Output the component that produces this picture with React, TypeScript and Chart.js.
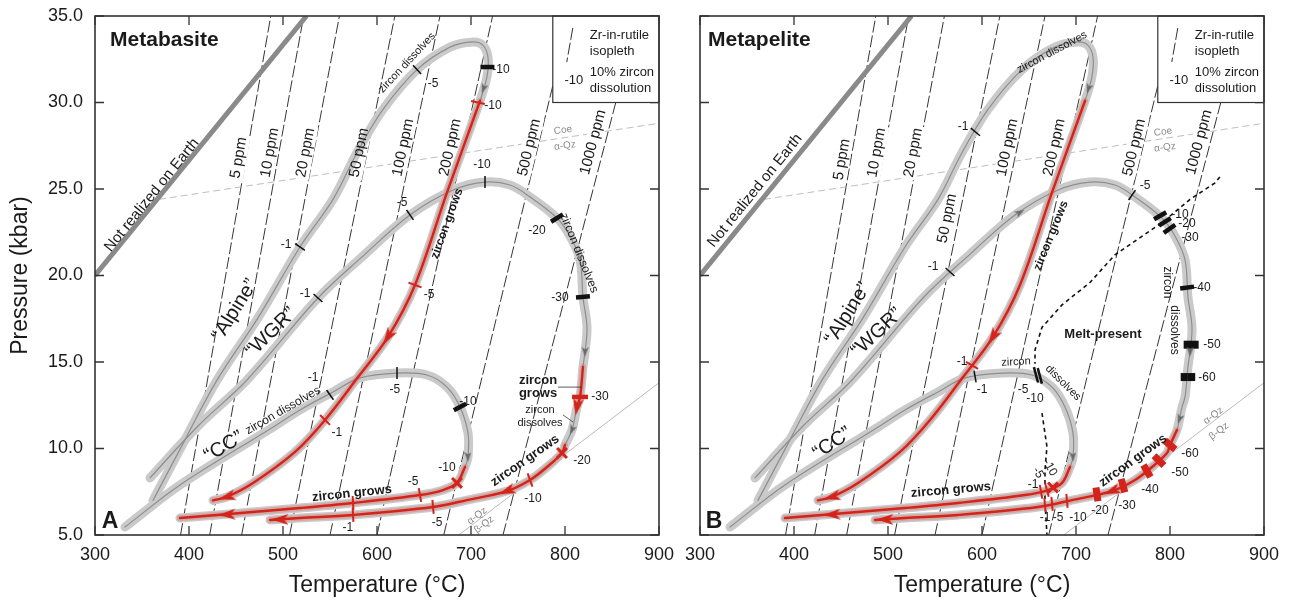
import React, { useEffect, useRef } from 'react';
import { Chart, registerables } from 'chart.js';

Chart.register(...registerables);

const FONT = '"Liberation Sans", Arial, Helvetica, sans-serif';

// ---------- axes ----------
const TEMP_TICKS = [300, 400, 500, 600, 700, 800, 900];
const PRESS_TICKS = [5, 10, 15, 20, 25, 30, 35];

// ---------- Zr-in-rutile isopleths ----------
const ISO_LABELS = ['5 ppm', '10 ppm', '20 ppm', '50 ppm', '100 ppm', '200 ppm', '500 ppm', '1000 ppm'];
const ISO_T_LOW = [391, 422, 456, 507, 550, 600, 671, 734]; // T at 5 kbar
const ISO_T_HIGH = [487, 522, 560, 619, 667, 723, 805, 878]; // T at 35 kbar
const ISO_LAB_T_A = [453, 486, 524, 581, 628, 678, 762, 830];
const ISO_LAB_P_A = [26.8, 27.1, 27.1, 27.1, 27.4, 27.4, 27.4, 27.7];
const ISO_LAB_T_B = [451, 488, 527, 563, 627, 677, 762, 831];
const ISO_LAB_P_B = [26.7, 27.1, 27.1, 23.3, 27.4, 27.4, 27.4, 27.7];

// ---------- boundaries ----------
const NOT_REAL_T = [300, 525];
const NOT_REAL_P = [20, 35];
const COE_T = [368, 900];
const COE_P = [24.4, 28.8];
const AB_T = [687, 900];
const AB_P = [5, 13.8];
const MELT_T = [853, 847.9, 821.3, 792.6, 741.5, 714.9, 685.1, 663.8, 656.4, 656.4, 660, 663.8, 669.1, 667, 667, 669.1];
const MELT_P = [25.7, 25.35, 24.4, 23.1, 21.2, 19.6, 18.3, 17.0, 15.7, 14.9, null, 12.05, 10.1, 8.76, 7.0, 5.0];

// ---------- P-T paths ----------
const ALPINE_T = [361.7, 395.7, 429.8, 473.4, 518.1, 553.2, 578.7, 606.4, 642.6, 677.7, 702.1, 712.8, 718.1, 717.0, 709.6, 674.5, 640.4, 611.7, 579.8, 544.7, 512.8, 468.1, 440.4, 425.5];
const ALPINE_P = [7.0, 10.5, 13.95, 17.55, 21.65, 24.4, 27.1, 29.6, 31.9, 33.2, 33.5, 33.3, 32.6, 31.5, 30.1, 24.8, 19.45, 16.45, 14.13, 11.65, 9.8, 8.0, 7.2, 7.0];
const WGR_T = [358.5, 409.6, 461.7, 537.2, 586.2, 635.1, 680.9, 714.9, 741.5, 762.8, 791.5, 805.3, 816.0, 819.1, 823.4, 821.3, 819.1, 816.0, 812.8, 807.4, 800.0, 796.8, 780.9, 762.8, 738.3, 695.7, 659.6, 574.5, 518.1, 486.2];
const WGR_P = [8.3, 11.3, 13.96, 18.7, 21.18, 23.5, 24.94, 25.4, 25.23, 24.54, 23.32, 22.28, 20.9, 18.76, 17.02, 15.58, 14.71, 12.98, 12.4, 11.07, 10.2, 9.74, 8.93, 8.18, 7.54, 7.02, 6.62, 6.16, 5.98, 5.87];
const CC_T = [331.9, 390.4, 486.2, 518.1, 553.2, 581.9, 621.3, 653.2, 674.5, 688.3, 696.8, 696.8, 693.6, 685.1, 670.2, 645.7, 574.5, 518.1, 429.8, 390.4];
const CC_P = [5.46, 7.89, 11.13, 12.23, 13.27, 14.08, 14.36, 14.25, 13.55, 12.4, 10.9, 9.51, 8.93, 8.01, 7.6, 7.31, 6.85, 6.56, 6.16, 5.98];

// index ranges where zircon grows (red), order: CC, WGR, Alpine
const RED_A = [[[12, 19]], [[16, 18], [20, 29]], [[14, 23]]];
const RED_B = [[[12, 19]], [[19, 29]], [[14, 23]]];

// ---------- zircon-dissolution markers [T, P, rotation] ----------
const A_BLACK_TICKS = [[518.1, 21.65, 35], [642.6, 31.9, 47], [537.2, 18.7, 42], [635.1, 23.5, 55], [714.9, 25.4, 90], [550, 13.1, 55], [621.3, 14.36, 90]];
const A_BLACK_BARS = [[717.5, 32.05, 0], [791.5, 23.32, -32], [819.1, 18.76, -5], [688.3, 12.4, -28]];
const A_RED_TICKS = [[707.4, 30.0, 12], [640.4, 19.45, 20], [544.7, 11.65, 45], [762.8, 8.18, 70], [659.6, 6.62, 85], [574.5, 6.16, 87], [645.7, 7.31, 80], [574.5, 6.85, 87]];
const A_RED_BARS = [[816, 12.98, 0]];
const A_RED_X = [[796.8, 9.74, 0], [685.1, 8.01, 0]];

const B_BLACK_TICKS = [[593, 28.3, 40], [566, 20.2, 42], [759.6, 24.65, -55], [592.6, 14.16, 80]];
const B_BLACK_BARS = [[789.5, 23.45, -30], [794.5, 23.1, -32], [799.5, 22.7, -35], [818.2, 19.3, -8]];
const B_BIG_BARS = [[822.5, 16.0, 0]];
const B_SPLIT_BARS = [[815.2, 14.13, 0], [823.0, 14.13, 0]];
const B_DOUBLE_TICKS = [[657.4, 14.26, 75], [661.5, 14.2, 75]];
const B_RED_TICKS = [[589.4, 14.8, 30], [669.1, 7.6, 75], [662.8, 7.5, 80], [690.4, 6.97, 85], [674.5, 6.8, 85], [667, 6.72, 85]];
const B_RED_X = [[675.5, 7.75, 0]];
const B_RED_BARS = [[800, 10.2, 40], [788.3, 9.3, 45], [775.5, 8.7, 60], [750, 7.85, 75], [722.3, 7.35, 82]];

// arrows [T, P, direction in degrees]
const A_RED_ARROWS = [[440.4, 7.2, 165], [611.7, 16.45, 122], [496.8, 5.9, 180], [738.3, 7.54, 159], [812.8, 12.4, 100], [440.4, 6.18, 177]];
const B_RED_ARROWS = [[440.4, 7.2, 165], [611.7, 16.45, 122], [496.8, 5.9, 180], [738.3, 7.54, 159], [440.4, 6.18, 177]];
const A_GRAY_ARROWS = [[713.3, 30.8, 110], [821.3, 15.58, 92], [696.8, 9.51, 90], [807.4, 11.07, 112]];
const B_GRAY_ARROWS = [[713.3, 30.8, 110], [821.3, 15.58, 92], [696.8, 9.51, 90], [810.1, 11.7, 110], [640.4, 23.65, -30]];

// leader lines (panel A)
const LEADER1_T = [792.6, 818.1];
const LEADER1_P = [13.55, 13.55];
const LEADER2_T = [797.9, 808.5];
const LEADER2_P = [11.94, 11.53];

// ---------- labels [text, T, P, rot?] ----------
const A_NUM_LABELS: any[] = [
  ['-1', 503.2, 21.8], ['-5', 659.6, 31.1], ['-10', 731.9, 31.9], ['-10', 723.4, 29.8], ['-5', 655.3, 18.9], ['-1', 557.4, 10.9],
  ['-1', 523.4, 18.93], ['-5', 626.6, 24.2], ['-10', 711.7, 26.4], ['-20', 770.2, 22.6], ['-30', 794.7, 18.7],
  ['-30', 837.2, 13.0], ['-20', 818.1, 9.3], ['-10', 766, 7.1], ['-5', 663.8, 5.7], ['-1', 569.1, 5.4],
  ['-1', 531.9, 14.1], ['-5', 619.1, 13.4], ['-10', 696.8, 12.7], ['-10', 674.5, 8.9], ['-5', 638.3, 8.1],
];
const B_NUM_LABELS: any[] = [
  ['-1', 579.8, 28.6], ['-1', 547.9, 20.5], ['-5', 773.4, 25.2], ['-10', 810.6, 23.5], ['-20', 818.1, 23.0], ['-30', 821.3, 22.2],
  ['-40', 834, 19.3], ['-50', 844.7, 16.0], ['-60', 839.4, 14.1],
  ['-1', 600, 13.4], ['-5', 643.6, 13.4], ['-10', 656.4, 12.9], ['-1', 578.7, 15.0],
  ['-1', 654.3, 7.9], ['-5', 659.6, 8.6, 60], ['-10', 672.3, 8.9, 60],
  ['-60', 821.3, 9.7], ['-50', 810.6, 8.6], ['-40', 778.7, 7.6], ['-30', 754.3, 6.7], ['-20', 725.5, 6.4],
  ['-10', 702.1, 6.0], ['-5', 680.9, 6.0], ['-1', 667, 6.0],
];

// [text, T, P, rotation, size, bold, align?]
const A_TEXTS: any[] = [
  ['Metabasite', 316, 33.6, 0, 21, 1, 'left'],
  ['A', 316, 5.8, 0, 23, 1],
  ['“Alpine”', 448.9, 18.0, -58, 20, 0],
  ['“WGR”', 487.2, 16.7, -44, 20, 0],
  ['“CC”', 437.2, 10.1, -31, 20, 0],
  ['Not realized on Earth', 360.6, 24.65, -51, 15, 0],
  ['zircon dissolves', 632, 32.3, -47, 11, 0],
  ['zircon grows', 674.5, 23.0, -70, 12, 1],
  ['zircon dissolves', 814.9, 21.3, 68, 12, 0],
  ['zircon', 771.3, 13.96, 0, 13, 1],
  ['grows', 771.3, 13.2, 0, 13, 1],
  ['zircon', 773.4, 12.2, 0, 11, 0],
  ['dissolves', 773.4, 11.5, 0, 11, 0],
  ['zircon grows', 757.4, 9.3, -35, 13, 1],
  ['zircon grows', 573.4, 7.4, -6, 13, 1],
  ['zircon dissolves', 500, 12.2, -30, 12, 0],
];
const B_TEXTS: any[] = [
  ['Metapelite', 308.5, 33.6, 0, 21, 1, 'left'],
  ['B', 314.9, 5.8, 0, 23, 1],
  ['“Alpine”', 457.4, 17.8, -58, 20, 0],
  ['“WGR”', 488.3, 16.7, -43, 20, 0],
  ['“CC”', 440.8, 10.3, -34, 20, 0],
  ['Not realized on Earth', 358.5, 24.9, -51, 15, 0],
  ['zircon dissolves', 674.5, 32.9, -28, 11, 0],
  ['zircon grows', 673.4, 22.3, -68, 12, 1],
  ['zircon', 796.8, 19.6, 90, 12, 0],
  ['dissolves', 804.3, 16.85, 90, 12, 0],
  ['Melt-present', 728.7, 16.6, 0, 13, 1],
  ['zircon', 636.2, 15.0, -3, 11, 0],
  ['dissolves', 686.2, 13.8, 45, 11, 0],
  ['zircon grows', 567, 7.6, -5, 13, 1],
  ['zircon grows', 760.6, 9.3, -36, 13, 1],
];
const A_GRAY_TEXTS: any[] = [['Coe', 797.9, 28.4, -8], ['α-Qz', 800, 27.5, -8], ['α-Qz', 706.4, 6.1, -37], ['β-Qz', 713.8, 5.6, -37]];
const B_GRAY_TEXTS: any[] = [['Coe', 792.6, 28.3, -8], ['α-Qz', 794.7, 27.4, -8], ['α-Qz', 846, 11.9, -37], ['β-Qz', 852, 11.0, -37]];

const LEGEND_T_LEFT = 787;
const LEGEND_P_BOTTOM = 30.0;

const RED = '#d3241c';
const RED_HALO = 'rgba(228,100,88,0.35)';
const BAND = '#cacaca';
const CENTER = '#8e8e8e';
const INK = '#1a1a1a';

const pts = (T: number[], P: (number | null)[]) => T.map((t, i) => ({ x: t, y: P[i] }));

function lineDs(data: any[], color: string, width: number, extra: any = {}) {
  return {
    data, borderColor: color, borderWidth: width, pointRadius: 0, pointHoverRadius: 0,
    fill: false, tension: 0, showLine: true, spanGaps: false, ...extra,
  };
}

function markerDs(list: number[][], style: any, r: number, w: number, color: string) {
  return {
    data: list.map((m) => ({ x: m[0], y: m[1] })), showLine: false, borderWidth: 0,
    pointStyle: style, pointRadius: r, pointHoverRadius: r, pointBorderWidth: w,
    pointBorderColor: color, pointBackgroundColor: color,
    pointRotation: list.map((m) => m[2] || 0),
  };
}

function arrowDs(list: number[][], img: any) {
  return {
    data: list.map((m) => ({ x: m[0], y: m[1] })), showLine: false, borderWidth: 0,
    pointStyle: img, pointRadius: 5, pointHoverRadius: 5,
    pointRotation: list.map((m) => m[2] + 90),
  };
}

function makeArrow(color: string, w: number, h: number) {
  const c = document.createElement('canvas');
  c.width = w; c.height = h;
  const g = c.getContext('2d')!;
  g.fillStyle = color;
  g.beginPath();
  g.moveTo(w / 2, 0); g.lineTo(w, h); g.lineTo(w / 2, h * 0.74); g.lineTo(0, h);
  g.closePath(); g.fill();
  return c;
}

function drawText(ctx: CanvasRenderingContext2D, text: string, x: number, y: number, size: number, bold: boolean, rot: number, color = INK, align: CanvasTextAlign = 'center') {
  ctx.save();
  ctx.translate(x, y);
  ctx.rotate((rot * Math.PI) / 180);
  ctx.font = `${bold ? 'bold ' : ''}${size}px ${FONT}`;
  ctx.fillStyle = color;
  ctx.textAlign = align;
  ctx.textBaseline = 'middle';
  ctx.fillText(text, 0, 0);
  ctx.restore();
}

function isoLabelGeometry(chart: any, panel: string) {
  const xs = chart.scales.x, ys = chart.scales.y;
  const isA = panel === 'A';
  const LT = isA ? ISO_LAB_T_A : ISO_LAB_T_B;
  const LP = isA ? ISO_LAB_P_A : ISO_LAB_P_B;
  return ISO_LABELS.map((lab, i) => {
    const x0 = xs.getPixelForValue(ISO_T_LOW[i]), y0 = ys.getPixelForValue(5);
    const x1 = xs.getPixelForValue(ISO_T_HIGH[i]), y1 = ys.getPixelForValue(35);
    return { lab, ang: Math.atan2(y1 - y0, x1 - x0), x: xs.getPixelForValue(LT[i]), y: ys.getPixelForValue(LP[i]) };
  });
}

const annotPlugin = {
  id: 'annot',
  afterDatasetDraw(chart: any, args: any, opts: any) {
    const d = chart.data.datasets[args.index];
    if (!d.drawIsoLabels) return;
    const ctx = chart.ctx;
    isoLabelGeometry(chart, opts.panel).forEach((g) => {
      ctx.save();
      ctx.translate(g.x, g.y);
      ctx.rotate(g.ang);
      ctx.font = `15px ${FONT}`;
      const w = ctx.measureText(g.lab).width;
      ctx.fillStyle = '#fff';
      ctx.fillRect(-w / 2 - 2, -8, w + 4, 16);
      ctx.restore();
    });
  },
  afterDatasetsDraw(chart: any, _args: any, opts: any) {
    const xs = chart.scales.x, ys = chart.scales.y, ctx = chart.ctx;
    const isA = opts.panel === 'A';
    const P = (t: number, p: number) => [xs.getPixelForValue(t), ys.getPixelForValue(p)];
    isoLabelGeometry(chart, opts.panel).forEach((g) => {
      drawText(ctx, g.lab, g.x, g.y, 15, false, (g.ang * 180) / Math.PI);
    });
    (isA ? A_GRAY_TEXTS : B_GRAY_TEXTS).forEach((t: any) => {
      const [x, y] = P(t[1], t[2]);
      drawText(ctx, t[0], x, y, 10, false, t[3], '#8a8a8a');
    });
    (isA ? A_NUM_LABELS : B_NUM_LABELS).forEach((t: any) => {
      const [x, y] = P(t[1], t[2]);
      drawText(ctx, t[0], x, y, 12, false, t[3] || 0);
    });
    (isA ? A_TEXTS : B_TEXTS).forEach((t: any) => {
      const [x, y] = P(t[1], t[2]);
      drawText(ctx, t[0], x, y, t[4], !!t[5], t[3], INK, t[6] || 'center');
    });
    const { left, right, top, bottom } = chart.chartArea;
    ctx.save();
    ctx.strokeStyle = '#333';
    ctx.lineWidth = 1.3;
    ctx.beginPath();
    TEMP_TICKS.forEach((v) => {
      const x = xs.getPixelForValue(v);
      ctx.moveTo(x, bottom); ctx.lineTo(x, bottom - 9);
      ctx.moveTo(x, top); ctx.lineTo(x, top + 9);
    });
    PRESS_TICKS.forEach((v) => {
      const y = ys.getPixelForValue(v);
      ctx.moveTo(left, y); ctx.lineTo(left + 9, y);
      ctx.moveTo(right, y); ctx.lineTo(right - 9, y);
    });
    ctx.stroke();
    // legend box
    const [lx, ly] = P(LEGEND_T_LEFT, 35);
    const [rx, by] = P(900, LEGEND_P_BOTTOM);
    ctx.fillStyle = '#fff';
    ctx.fillRect(lx, ly, rx - lx, by - ly);
    ctx.lineWidth = 1.2;
    ctx.strokeRect(lx, ly, rx - lx, by - ly);
    ctx.beginPath();
    ctx.setLineDash([12, 3]);
    ctx.lineWidth = 0.9;
    ctx.strokeStyle = INK;
    ctx.moveTo(lx + 20, ly + 12); ctx.lineTo(lx + 14, ly + 46);
    ctx.stroke();
    ctx.setLineDash([]);
    drawText(ctx, 'Zr-in-rutile', lx + 37, ly + 19, 13, false, 0, INK, 'left');
    drawText(ctx, 'isopleth', lx + 37, ly + 35, 13, false, 0, INK, 'left');
    drawText(ctx, '10% zircon', lx + 37, ly + 56, 13, false, 0, INK, 'left');
    drawText(ctx, 'dissolution', lx + 37, ly + 72, 13, false, 0, INK, 'left');
    drawText(ctx, '-10', lx + 21, ly + 64, 13, false, 0, INK, 'center');
    ctx.strokeStyle = '#333';
    ctx.lineWidth = 1.6;
    ctx.strokeRect(left, top, right - left, bottom - top);
    ctx.restore();
  },
};

function buildConfig(panel: 'A' | 'B', redArrow: any, grayArrow: any) {
  const isA = panel === 'A';
  const ds: any[] = [];
  ISO_T_LOW.forEach((t, i) => ds.push(lineDs(pts([t, ISO_T_HIGH[i]], [5, 35]), '#1e1e1e', 0.9, { borderDash: [12, 3] })));
  ds.push(lineDs(pts(COE_T, COE_P), '#adadad', 0.8, { borderDash: [7, 4] }));
  ds.push(lineDs(pts(AB_T, AB_P), '#a8a8a8', 0.8));
  if (!isA) ds.push(lineDs(pts(MELT_T, MELT_P), '#111', 1.6, { borderDash: [4, 3.5] }));
  ds[ds.length - 1].drawIsoLabels = true;
  ds.push(lineDs(pts(NOT_REAL_T, NOT_REAL_P), '#8a8a8a', 5));

  const paths: any[] = [[CC_T, CC_P], [WGR_T, WGR_P], [ALPINE_T, ALPINE_P]];
  const curve = { tension: 0.35, borderCapStyle: 'round', borderJoinStyle: 'round' };
  paths.forEach(([T, Pp]: any) => ds.push(lineDs(pts(T, Pp), BAND, 9, curve)));
  paths.forEach(([T, Pp]: any) => ds.push(lineDs(pts(T, Pp), CENTER, 1.2, curve)));
  const reds = isA ? RED_A : RED_B;
  const redSegs: any[] = [];
  paths.forEach(([T, Pp]: any, k: number) => {
    reds[k].forEach(([a, b]: number[]) => redSegs.push(pts(T.slice(a, b + 1), Pp.slice(a, b + 1))));
  });
  redSegs.forEach((s) => ds.push(lineDs(s, RED_HALO, 6, curve)));
  redSegs.forEach((s) => ds.push(lineDs(s, RED, 2.4, curve)));

  if (isA) {
    ds.push(lineDs(pts(LEADER1_T, LEADER1_P), '#333', 0.8));
    ds.push(lineDs(pts(LEADER2_T, LEADER2_P), '#333', 0.8));
    ds.push(markerDs(A_BLACK_TICKS, 'line', 6, 1.5, '#111'));
    ds.push(markerDs(A_BLACK_BARS, 'line', 7, 4.5, '#111'));
    ds.push(markerDs(A_RED_TICKS, 'line', 7, 2, RED));
    ds.push(markerDs(A_RED_BARS, 'line', 8, 4.5, RED));
    ds.push(markerDs(A_RED_X, 'crossRot', 7, 3, RED));
    ds.push(arrowDs(A_RED_ARROWS, redArrow));
    ds.push(arrowDs(A_GRAY_ARROWS, grayArrow));
  } else {
    ds.push(markerDs(B_BLACK_TICKS, 'line', 6, 1.5, '#111'));
    ds.push(markerDs(B_BLACK_BARS, 'line', 7, 4.5, '#111'));
    ds.push(markerDs(B_BIG_BARS, 'line', 7.5, 8, '#111'));
    ds.push(markerDs(B_SPLIT_BARS, 'line', 3.6, 8, '#111'));
    ds.push(markerDs(B_DOUBLE_TICKS, 'line', 8, 2.5, '#111'));
    ds.push(markerDs(B_RED_TICKS, 'line', 7, 2, RED));
    ds.push(markerDs(B_RED_X, 'crossRot', 7, 3, RED));
    ds.push(markerDs(B_RED_BARS, 'line', 7, 7, RED));
    ds.push(arrowDs(B_RED_ARROWS, redArrow));
    ds.push(arrowDs(B_GRAY_ARROWS, grayArrow));
  }

  const tickFont = { family: FONT, size: 18 };
  const titleFont = { family: FONT, size: 23 };
  return {
    type: 'line',
    data: { datasets: ds.map((d, i) => ({ ...d, order: -i })) },
    options: {
      responsive: false,
      animation: false,
      devicePixelRatio: 1,
      events: [],
      layout: { padding: { left: 0, top: 16, right: isA ? 21 : 26, bottom: 0 } },
      plugins: { legend: { display: false }, tooltip: { enabled: false }, annot: { panel } },
      scales: {
        x: {
          type: 'linear', min: 300, max: 900,
          afterBuildTicks: (s: any) => { s.ticks = TEMP_TICKS.map((v) => ({ value: v })); },
          afterFit: (s: any) => { s.height = 69; s.paddingLeft = 0; s.paddingRight = 0; },
          grid: { display: false, drawTicks: false },
          border: { display: false },
          ticks: { padding: 9, maxRotation: 0, autoSkip: false, color: INK, font: tickFont },
          title: { display: true, text: 'Temperature (°C)', color: INK, font: titleFont, padding: { top: 0, bottom: 5 } },
        },
        y: {
          type: 'linear', min: 5, max: 35,
          afterBuildTicks: (s: any) => { s.ticks = PRESS_TICKS.map((v) => ({ value: v })); },
          afterFit: (s: any) => { s.width = isA ? 95 : 20; s.paddingTop = 0; s.paddingBottom = 0; },
          grid: { display: false, drawTicks: false },
          border: { display: false },
          ticks: { display: isA, padding: 12, color: INK, font: tickFont, callback: (v: any) => Number(v).toFixed(1) },
          title: { display: isA, text: 'Pressure (kbar)', color: INK, font: titleFont, padding: { top: 7, bottom: 0 } },
        },
      },
    },
    plugins: [annotPlugin],
  };
}

export default function App() {
  const refA = useRef<HTMLCanvasElement>(null);
  const refB = useRef<HTMLCanvasElement>(null);
  useEffect(() => {
    const redArrow = makeArrow(RED, 11, 17);
    const grayArrow = makeArrow('#6a6a6a', 7, 10);
    const a = new Chart(refA.current as any, buildConfig('A', redArrow, grayArrow) as any);
    const b = new Chart(refB.current as any, buildConfig('B', redArrow, grayArrow) as any);
    return () => { a.destroy(); b.destroy(); };
  }, []);
  return (
    <div style={{ position: 'absolute', left: 0, top: 0, width: 1290, height: 604, background: '#fff', overflow: 'hidden' }}>
      <canvas ref={refA} width={680} height={604} style={{ position: 'absolute', left: 0, top: 0, width: 680, height: 604 }} />
      <canvas ref={refB} width={610} height={604} style={{ position: 'absolute', left: 680, top: 0, width: 610, height: 604 }} />
    </div>
  );
}
